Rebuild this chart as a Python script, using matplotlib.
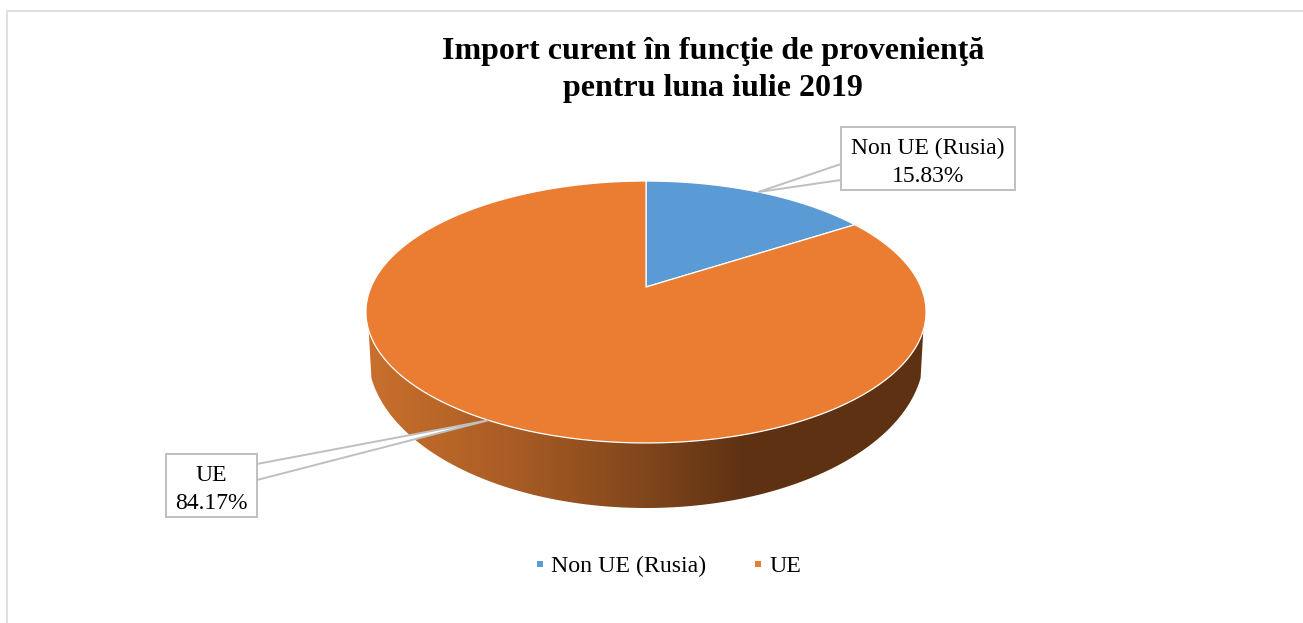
import numpy as np
import matplotlib
matplotlib.use("Agg")
import matplotlib.pyplot as plt
from matplotlib.colors import LinearSegmentedColormap
from matplotlib.lines import Line2D
from matplotlib.patches import Polygon, Rectangle

title = "Import curent în funcţie de provenienţă\npentru luna iulie 2019"
categories = ["Non UE (Rusia)", "UE"]
values = [15.83, 84.17]
colors = ["#5B9BD5", "#EB7D32"]

plt.rcParams["font.family"] = ["Liberation Serif", "DejaVu Serif"]
W, H = 1303, 623
fig = plt.figure(figsize=(W / 100, H / 100), dpi=100)
ax = fig.add_axes([0, 0, 1, 1])
ax.set_xlim(0, W)
ax.set_ylim(H, 0)
ax.axis("off")

# chart frame
ax.plot([7, 7, W + 5], [H + 5, 11, 11], color="#D9D9D9", lw=1.2, zorder=1)

# perspective projection of a circular pie
CX, CY, A, B, K = 646, 287, 274.9, 126.2, 0.1908


def rim(theta):
    u, v = np.sin(theta), np.cos(theta)
    d = 1 + K * v
    return CX + A * u / d, CY - B * v / d


# side wall: top rim edge, then the lower outline of the pie body
t_top = np.radians(np.linspace(108.7, 251.3, 300))
xt, yt = rim(t_top)
t_low = np.radians(np.linspace(261, 99, 300))
xb = CX + 278 * np.sin(t_low)
yb = 354 - 154 * np.cos(t_low)
side = Polygon(np.r_[np.c_[xt, yt], np.c_[xb, yb]], closed=True, fc="none", ec="none")
ax.add_patch(side)
cmap = LinearSegmentedColormap.from_list(
    "side",
    [(0, "#C9702C"), (0.25, "#AB5D25"), (0.5, "#80461B"), (0.68, "#5E3113"), (1, "#5E3113")],
)
im = ax.imshow(np.linspace(0, 1, 600)[None, :], extent=(366, 926, 520, 300), cmap=cmap,
               aspect="auto", zorder=2)
im.set_clip_path(side)
ax.set_xlim(0, W)
ax.set_ylim(H, 0)

# pie top
fractions = np.cumsum([0] + values) / sum(values) * 2 * np.pi
for c, a0, a1 in zip(colors, fractions[:-1], fractions[1:]):
    t = np.linspace(a0, a1, 400)
    x, y = rim(t)
    ax.add_patch(Polygon(np.r_[[[CX, CY]], np.c_[x, y]], closed=True, fc=c, ec="white", lw=0.9,
                         joinstyle="round", zorder=3))

# data label call-outs
boxes = [(841, 127, 174, 63), (166, 454, 91, 63)]
text_dy = [4, 4]
mids = (fractions[:-1] + fractions[1:]) / 2
anchors = [[(841, 164), (841, 180)], [(257, 464), (257, 480)]]
for cat, val, mid, (bx, by, bw, bh), anc, dy in zip(categories, values, mids, boxes, anchors, text_dy):
    tip = rim(mid)
    ax.add_patch(Polygon([anc[0], tip, anc[1]], closed=False, fc="white", ec="#BFBFBF", lw=1.4,
                         joinstyle="miter", zorder=4))
    ax.add_patch(Rectangle((bx, by), bw, bh, fc="white", ec="#BFBFBF", lw=1.4, zorder=5))
    ax.text(bx + bw / 2, by + bh / 2 + dy, f"{cat}\n{val:.2f}%", ha="center", va="center",
            fontsize=17, color="#000000", linespacing=1.45, zorder=6)

ax.text(713, 70, title, ha="center", va="center", fontsize=23, fontweight="bold",
        color="#000000", linespacing=1.36)

handles = [Line2D([], [], ls="none", marker="s", ms=5, mew=0, mfc=c, mec=c) for c in colors]
ax.legend(handles, categories, ncol=2, loc="center", bbox_to_anchor=(664.5 / W, 1 - 566 / H),
          frameon=False, fontsize=17.2, handletextpad=-0.016, columnspacing=1.634, handlelength=1.0,
          labelcolor="#000000")

fig.savefig("out.png", dpi=100, facecolor="white")
